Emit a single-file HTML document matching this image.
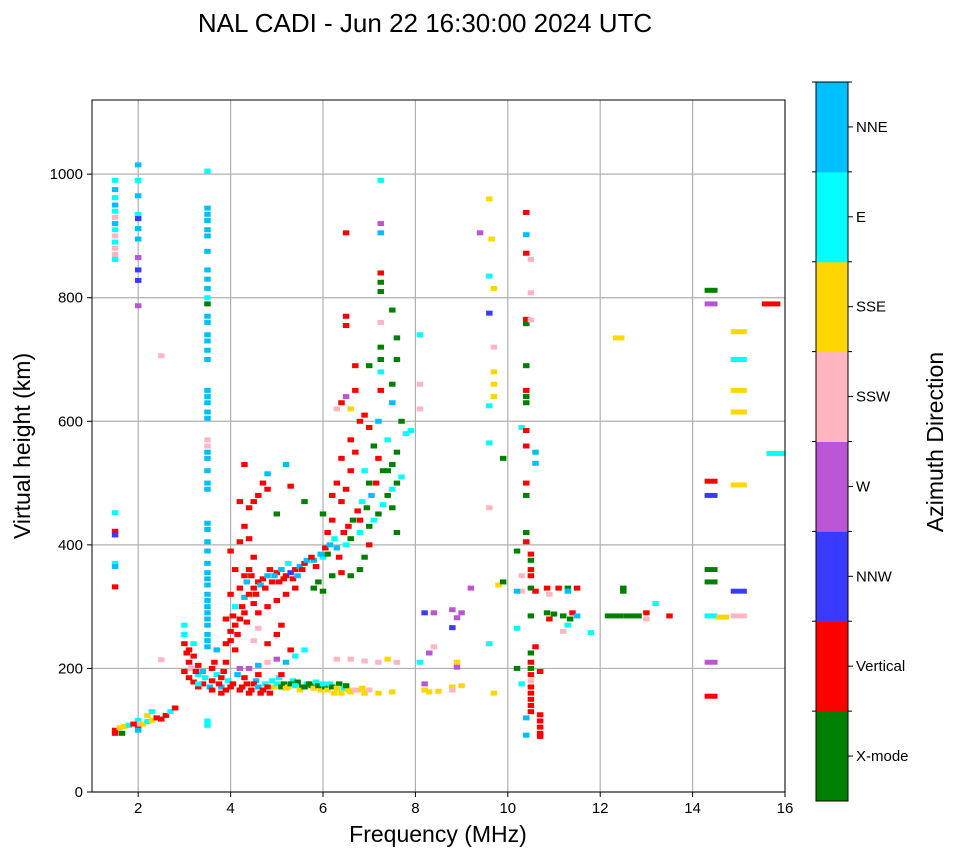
<!DOCTYPE html>
<html><head><meta charset="utf-8"><style>
body{margin:0;background:#fff;font-family:"Liberation Sans","DejaVu Sans",sans-serif}
svg text{font-family:"Liberation Sans","DejaVu Sans",sans-serif}
</style></head><body>
<svg id="chart" width="958" height="857" viewBox="0 0 958 857" xmlns="http://www.w3.org/2000/svg">
<rect width="958" height="857" fill="#fff"/>
<text x="425" y="32" font-size="26" text-anchor="middle">NAL CADI - Jun 22 16:30:00 2024 UTC</text>
<g id="grid"></g>
<g id="marks"></g>
<g id="axes"></g>
<g id="cbar"></g>
<text x="438" y="842" font-size="23" text-anchor="middle">Frequency (MHz)</text>
<text transform="translate(30,446) rotate(-90)" font-size="23" text-anchor="middle">Virtual height (km)</text>
<text transform="translate(943,442) rotate(-90)" font-size="23" text-anchor="middle">Azimuth Direction</text>
</svg>
<script>
const xTicks=[2,4,6,8,10,12,14,16];
const yTicks=[0,200,400,600,800,1000];
const directions=["X-mode","Vertical","NNW","W","SSW","SSE","E","NNE"];
const dirColors=["#008000","#ff0000","#3a3aff","#ba55d3","#ffb6c1","#ffd700","#00ffff","#00bfff"];
// [freq MHz, height km, direction index, optional span MHz]
const points=[
[1.5,990,6],[1.5,975,7],[1.5,962,6],[1.5,950,7],[1.5,940,6],[1.5,930,4],[1.5,920,7],[1.5,910,6],[1.5,900,4],[1.5,890,6],[1.5,880,4],[1.5,870,4],[1.5,862,6],[1.5,452,6],[1.5,422,1],[1.5,416,2],[1.5,370,6],[1.5,365,7],[1.5,332,1],[1.5,100,1],[1.5,95,1],
[2,1015,7],[2,990,6],[2,965,7],[2,935,6],[2,928,2],[2,912,7],[2,895,7],[2,865,3],[2,845,2],[2,828,2],[2,787,3],[2,116,6],[2,106,1],[2,110,4],
[1.6,104,5],[1.7,106,5],[1.8,108,6],[1.9,110,1],[2.1,110,5],[2.2,114,6],[2.3,116,5],[2.4,120,1],[2.5,118,1],[2.6,124,1],[2.7,130,6],[2.8,136,1],[2.2,124,5],[2.3,130,6],[2.5,214,4],[2.5,706,4],[1.65,95,0],[2.0,100,7],
[3.5,1005,6],[3.5,945,7],[3.5,935,7],[3.5,925,7],[3.5,910,7],[3.5,900,7],[3.5,875,7],[3.5,845,7],[3.5,830,7],[3.5,815,7],[3.5,800,6],[3.5,790,0],[3.5,770,7],[3.5,760,7],[3.5,740,7],[3.5,730,7],[3.5,715,7],[3.5,700,7],[3.5,650,7],[3.5,640,7],[3.5,630,7],[3.5,615,7],[3.5,605,7],[3.5,570,4],[3.5,560,4],[3.5,550,7],[3.5,540,7],[3.5,520,7],[3.5,500,7],[3.5,490,7],[3.5,435,7],[3.5,425,7],[3.5,405,7],[3.5,390,7],[3.5,370,7],[3.5,355,7],[3.5,345,7],[3.5,335,7],[3.5,320,7],[3.5,310,7],[3.5,300,7],[3.5,290,7],[3.5,280,7],[3.5,270,7],[3.5,255,7],[3.5,245,7],[3.5,235,7],[3.5,115,6],[3.5,108,6],
[3.0,270,6],[3.0,255,6],[3.0,240,1],[3.05,225,1],[3.1,210,1],[3.0,195,1],[3.1,185,1],[3.2,178,1],[3.15,200,4],[3.3,190,6],[3.3,205,1],[3.2,220,1],[3.4,175,1],[3.4,195,7],[3.6,180,1],[3.6,200,1],[3.7,190,6],[3.8,185,1],[3.8,170,7],[3.9,165,1],[3.9,210,1],[3.7,230,7],[3.9,240,1],[4.0,260,1],[4.1,270,1],[4.0,245,1],[4.2,280,1],[4.1,300,6],[4.3,290,1],[4.3,315,7],[4.4,320,1],[4.5,330,1],[4.5,305,1],[4.6,340,7],[4.7,345,1],[4.8,350,7],[4.9,340,1],[5.0,355,1],[5.1,360,7],[5.2,350,1],[5.3,355,2],[5.4,360,1],[5.5,365,7],[5.6,370,1],[5.8,375,7],[6.0,380,6],[6.1,385,0],[6.3,395,7],[6.5,400,6],[6.6,410,0],[6.8,420,6],[7.0,430,0],[7.1,440,6],[7.2,450,0],[7.3,465,6],[7.4,480,0],[7.5,490,6],[7.6,500,0],[7.7,510,6],[7.5,530,0],[7.6,550,0],[7.4,570,6],
[4.0,320,1],[4.2,330,1],[4.3,350,1],[4.4,360,1],[4.5,380,1],[4.6,340,1],[4.4,410,1],[4.3,430,1],[4.4,460,1],[4.5,470,1],[4.6,480,1],[4.7,500,1],[4.8,490,1],[4.2,470,1],[4.3,530,1],[4.8,515,7],[4.2,405,1],[4.0,390,1],[4.1,360,1],[4.6,290,1],[4.8,300,1],[5.0,310,1],[5.2,320,1],[5.4,330,1],[5.0,450,0],[5.3,495,1],[5.2,530,7],[5.6,470,0],[5.8,330,0],[5.9,340,0],[6.0,450,0],[6.1,420,1],[6.2,440,1],[6.2,480,1],[6.3,500,1],[6.4,470,1],[6.5,490,1],[6.6,520,1],[6.4,540,1],[6.7,550,1],[6.6,570,1],[6.8,600,1],[6.5,640,3],[6.6,620,5],[6.4,630,1],[6.7,650,1],[6.9,610,1],[7.0,590,1],[7.2,600,7],[7.1,560,0],[7.3,520,0],[7.2,540,1],[7.4,520,0],[7.5,460,0],[7.6,420,0],[7.0,400,1],[6.9,380,0],[6.8,360,0],[6.6,350,0],[6.4,355,1],[6.2,350,0],[6.0,325,0],[6.5,770,1],[6.5,755,1],[6.5,905,1],[6.3,620,4],[6.7,690,1],[7.0,690,0],
[3.1,230,1],[3.2,240,6],[3.25,195,1],[3.3,170,1],[3.45,185,6],[3.55,170,7],[3.65,210,1],[3.75,175,1],[3.85,195,1],[3.95,180,6],[4.05,175,1],[4.15,190,7],[4.05,285,1],[4.15,255,1],[4.25,300,1],[4.35,275,1],[4.35,340,7],[4.45,350,1],[4.55,320,1],[4.65,335,7],[4.75,330,1],[4.85,360,1],[4.95,350,7],[5.05,340,1],[5.15,345,1],[5.25,370,6],[5.35,345,1],[5.45,350,7],[5.55,360,1],[5.65,375,7],[5.75,380,1],[5.85,365,1],[5.95,385,7],[6.05,395,1],[6.15,400,7],[6.25,410,6],[6.35,380,1],[6.45,420,1],[6.55,430,1],[6.65,440,0],[6.75,455,1],[6.85,470,6],[6.95,460,0],[7.05,480,7],[7.15,500,1],[6.9,520,6],[6.8,440,1],[7.0,500,0],
[4.25,170,1],[4.35,175,1],[4.45,165,1],[4.55,180,7],[4.65,160,1],[4.75,175,6],[4.85,160,1],[4.95,170,5],[5.05,185,6],[5.15,175,0],[5.25,170,5],[5.35,180,6],[5.45,178,0],[5.55,170,0],[5.65,175,6],[5.75,172,0],[5.85,178,6],[5.95,165,5],[6.05,170,0],[6.15,175,6],[6.25,160,5],[6.35,175,0],[6.45,168,6],[6.55,165,5],[6.75,165,5],[6.85,168,5],
[7.25,990,6],[7.25,920,3],[7.25,905,7],[7.25,840,1],[7.25,825,0],[7.25,810,0],[7.25,760,4],[7.25,720,0],[7.25,700,0],[7.25,680,6],[7.25,650,1],[7.5,780,0],[7.6,735,0],[7.6,700,0],[7.5,660,0],[7.5,630,7],[7.7,600,0],[7.8,580,6],[7.9,585,6],[8.1,740,6],[8.1,660,4],[8.1,620,4],
[3.3,175,6],[3.6,165,1],[3.8,160,1],[4.0,170,1],[4.2,165,1],[4.4,160,1],[4.5,175,1],[4.6,170,7],[4.7,165,1],[4.8,170,1],[4.9,180,6],[5.0,175,6],[5.1,170,0],[5.2,168,5],[5.3,175,0],[5.4,172,6],[5.5,165,5],[5.6,170,0],[5.7,175,0],[5.8,168,5],[5.9,172,0],[6.0,175,6],[6.1,165,5],[6.2,170,0],[6.3,168,5],[6.4,160,5],[6.5,172,0],[6.6,162,5],[6.7,165,4],[6.9,160,5],[7.0,165,4],[7.2,160,5],[7.5,162,5],[4.2,200,3],[4.4,200,3],[4.6,205,7],[4.8,210,4],[5.0,215,3],[5.2,210,7],[5.4,220,6],[5.6,230,6],[4.5,245,4],[4.8,240,1],[5.0,255,1],[5.3,230,1],[4.3,185,1],[4.6,190,1],[5.1,190,1],[4.1,230,1],[3.9,280,1],[4.6,265,4],[5.1,270,1],
[6.3,215,4],[6.6,215,4],[6.9,212,4],[7.2,210,4],[7.4,215,5],[7.6,210,4],[8.2,165,5],[8.3,162,5],[8.5,163,5],[8.8,170,5],[9.0,172,5],[8.8,165,4],[8.2,175,3],[8.1,210,6],[8.3,225,3],[8.4,235,4],[8.9,210,5],[8.9,202,3],[9.0,290,3],[8.9,282,3],[8.8,295,3],[8.8,266,2],[8.2,290,2],[8.4,290,3],[9.2,330,3],[9.6,240,6],[9.6,460,4],[9.7,160,5],[9.8,335,5],
[9.4,905,3],[9.6,960,5],[9.65,895,5],[9.6,835,6],[9.7,815,5],[9.6,775,2],[9.7,720,4],[9.7,680,5],[9.7,660,5],[9.7,640,5],[9.6,625,6],[9.6,565,6],[9.9,540,0],[9.9,340,0],
[10.4,938,1],[10.4,902,7],[10.4,872,1],[10.5,862,4],[10.5,808,4],[10.4,765,1],[10.4,758,0],[10.5,764,4],[10.4,690,0],[10.4,650,1],[10.4,640,0],[10.4,630,0],[10.3,590,6],[10.4,585,1],[10.4,560,1],[10.4,500,1],[10.4,480,0],[10.4,420,0],[10.4,405,1],[10.2,390,0],[10.5,385,1],[10.5,375,0],[10.5,360,1],[10.5,350,1],[10.6,550,7],[10.6,532,7],[10.3,350,4],[10.5,330,0],[10.6,325,1],[10.3,325,4],[10.2,325,7],[10.5,285,0],[10.2,265,6],[10.6,235,1],[10.5,225,0],[10.5,210,1],[10.5,200,0],[10.5,190,1],[10.5,180,4],[10.5,170,1],[10.5,160,1],[10.5,150,1],[10.5,140,1],[10.5,130,1],[10.4,120,7],[10.4,92,7],[10.3,175,6],[10.2,200,0],[10.7,195,1],[10.7,125,1],[10.7,115,1],[10.7,105,1],[10.7,95,1],[10.7,90,1],
[10.85,330,1],[10.85,290,0],[10.9,280,1],[11.0,288,0],[11.2,285,0],[11.35,280,0],[11.4,290,1],[11.5,285,7],[11.1,330,1],[11.3,330,0],[11.3,325,7],[11.5,330,1],[11.3,270,6],[11.2,260,4],[10.9,320,4],[11.8,258,6],[12.5,330,0],[12.5,325,0],[12.3,285,0,0.4],[12.7,285,0,0.4],[13.0,290,1],[13.0,280,4],[13.2,305,6],[13.5,285,1],[12.4,735,5,0.25],
[14.4,812,0,0.28],[14.4,790,3,0.28],[14.4,503,1,0.28],[14.4,480,2,0.28],[14.4,360,0,0.28],[14.4,340,0,0.28],[14.4,285,6,0.28],[14.65,283,5,0.28],[14.4,210,3,0.28],[14.4,155,1,0.28],
[15.0,745,5,0.35],[15.0,700,6,0.35],[15.0,650,5,0.35],[15.0,615,5,0.35],[15.0,497,5,0.35],[15.0,325,2,0.35],[15.0,285,4,0.35],[15.7,790,1,0.4],[15.8,548,6,0.4]
];
const NS="http://www.w3.org/2000/svg";
const L=92,R=785,T=100,B=792;
const fMin=1,fMax=16,hMin=0,hMax=1120;
const xs=f=>L+(f-fMin)/(fMax-fMin)*(R-L);
const ys=h=>B-(h-hMin)/(hMax-hMin)*(B-T);
function mk(tag,attrs,parent){const e=document.createElementNS(NS,tag);for(const k in attrs)e.setAttribute(k,attrs[k]);parent.appendChild(e);return e;}
const grid=document.getElementById('grid'),axes=document.getElementById('axes'),marks=document.getElementById('marks'),cbar=document.getElementById('cbar');
xTicks.forEach(t=>{
  const x=xs(t);
  const g=mk('line',{x1:x,x2:x,y1:T,y2:B,stroke:'#b0b0b0','stroke-width':1.2},grid);
  
  
  mk('line',{x1:x,x2:x,y1:B,y2:B+5,stroke:'#000'},axes);
  const tx=mk('text',{x:x,y:B+21,'font-size':15,'text-anchor':'middle'},axes);
  tx.textContent=t;
  
  
});
yTicks.forEach(t=>{
  const y=ys(t);
  const g=mk('line',{x1:L,x2:R,y1:y,y2:y,stroke:'#b0b0b0','stroke-width':1.2},grid);
  
  
  mk('line',{x1:L-5,x2:L,y1:y,y2:y,stroke:'#000'},axes);
  const tx=mk('text',{x:L-9,y:y+5,'font-size':15,'text-anchor':'end'},axes);
  tx.textContent=t;
  
  
});
points.forEach(p=>{
  const span=p[3]||0.14;
  const x0=xs(p[0]-span/2),x1=xs(p[0]+span/2);
  const r=mk('rect',{x:x0,y:ys(p[1])-2.5,width:x1-x0,height:5,fill:dirColors[p[2]]},marks);
  
  
});
const fr=mk('rect',{x:L,y:T,width:R-L,height:B-T,fill:'none',stroke:'#000','stroke-width':1},axes);


const cT=82,cB=801,cL=816,cR=848,bh=(cB-cT)/directions.length;
directions.forEach((d,i)=>{
  const y0=cB-(i+1)*bh;
  const r=mk('rect',{x:cL,y:y0,width:cR-cL,height:bh+0.5,fill:dirColors[i]},cbar);
  
  
  mk('line',{x1:cR,x2:cR+5,y1:y0+bh/2,y2:y0+bh/2,stroke:'#000'},cbar);
  mk('line',{x1:cR,x2:cR+4,y1:y0,y2:y0,stroke:'#000'},cbar);
  mk('line',{x1:cL-4,x2:cL,y1:y0,y2:y0,stroke:'#000'},cbar);
  const tx=mk('text',{x:cR+8,y:y0+bh/2+5,'font-size':15},cbar);
  tx.textContent=d;
  
  
});
mk('rect',{x:cL,y:cT,width:cR-cL,height:cB-cT,fill:'none',stroke:'#000'},cbar);
</script>
</body></html>
